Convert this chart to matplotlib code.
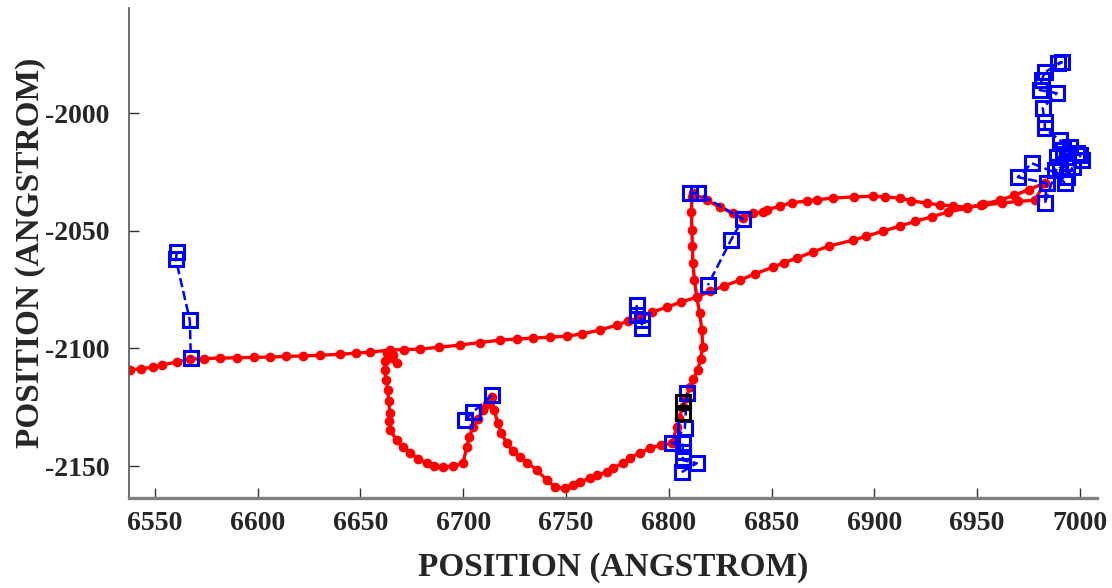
"""
Tip trajectory with tracked positions (x/y in angstrom)
"""
import matplotlib
matplotlib.use('Agg')
import matplotlib.pyplot as plt

# red trajectory: long drift to the right, back along the upper arc,
# down the steep branch and round the lower loop
path_x = [6537.8, 6543.0, 6549.0, 6553.5, 6560.7, 6567.0, 6574.0, 6581.6,
          6590.0, 6598.0, 6605.9, 6614.0, 6622.0, 6630.3, 6640.0, 6648.0,
          6654.6, 6664.3, 6671.0, 6678.9, 6688.0, 6698.3, 6708.0, 6717.8,
          6726.0, 6733.9, 6742.0, 6750.4, 6758.0, 6766.4, 6774.7, 6780.0,
          6785.9, 6792.0, 6799.0, 6806.0, 6813.6, 6820.0, 6827.0, 6834.5,
          6842.0, 6850.6, 6856.0, 6862.3, 6870.0, 6878.0, 6889.5, 6896.0,
          6904.0, 6912.4, 6920.0, 6928.0, 6936.0, 6945.0, 6953.0, 6961.0,
          6968.0, 6975.0, 6982.9,
          6978.0, 6970.0, 6962.0, 6952.0, 6945.0, 6938.1, 6932.0, 6925.5,
          6918.0, 6912.4, 6905.0, 6899.2, 6890.0, 6879.8, 6872.0, 6867.1,
          6860.0, 6854.0, 6848.0, 6845.7, 6840.9, 6836.0, 6831.1, 6824.8,
          6818.5, 6811.7,
          6811.2, 6811.0, 6811.2, 6811.5, 6811.7, 6812.5, 6813.6, 6815.0,
          6816.1, 6816.5, 6815.5, 6814.1, 6812.0, 6810.2, 6808.5, 6806.8,
          6805.0, 6803.9, 6801.5,
          6796.0, 6790.8, 6785.9, 6781.0, 6777.6, 6773.0, 6769.8, 6765.0,
          6761.6, 6757.0, 6753.3, 6749.4, 6744.6, 6740.7, 6735.8, 6731.0,
          6727.5, 6724.0, 6721.2, 6718.5, 6716.8, 6715.0, 6713.9,
          6711.5, 6709.5, 6707.0, 6704.7, 6703.0, 6701.8, 6699.8, 6695.0,
          6690.1, 6686.0, 6682.3, 6678.0, 6674.0, 6670.5, 6667.7, 6664.3,
          6664.0, 6664.3, 6663.8, 6663.3, 6662.5, 6661.9, 6662.0, 6662.8,
          6665.8, 6667.7, 6665.3]
path_y = [-2109.2, -2108.6, -2108.0, -2107.0, -2105.8, -2104.6, -2104.3, -2104.1,
          -2104.0, -2103.8, -2103.7, -2103.4, -2103.2, -2102.9, -2102.5, -2102.0,
          -2101.6, -2100.7, -2100.5, -2100.3, -2099.5, -2098.6, -2097.5, -2096.5,
          -2096.0, -2095.6, -2095.2, -2094.8, -2093.8, -2092.2, -2090.1, -2088.5,
          -2086.7, -2084.5, -2082.5, -2080.3, -2078.2, -2075.8, -2073.4, -2071.0,
          -2068.3, -2065.5, -2063.5, -2061.6, -2059.0, -2056.5, -2054.0, -2052.3,
          -2050.2, -2048.0, -2046.0, -2044.0, -2042.0, -2040.4, -2038.7, -2037.0,
          -2035.0, -2032.5, -2029.8,
          -2037.0, -2037.5, -2038.2, -2039.2, -2040.0, -2039.5, -2039.0, -2038.3,
          -2037.2, -2036.1, -2035.6, -2035.3, -2035.6, -2036.1, -2036.8, -2037.4,
          -2038.0, -2039.5, -2041.0, -2042.1, -2042.5, -2044.6, -2042.5, -2040.0,
          -2037.0, -2034.0,
          -2035.7, -2042.0, -2049.7, -2056.5, -2063.8, -2071.0, -2078.2, -2085.0,
          -2092.2, -2099.5, -2104.5, -2109.2, -2113.0, -2116.5, -2121.0, -2125.0,
          -2129.5, -2133.5, -2140.3,
          -2141.2, -2142.4, -2144.5, -2146.5, -2148.8, -2150.8, -2152.6, -2154.0,
          -2155.1, -2156.8, -2158.1, -2159.4, -2159.0, -2156.0, -2151.7, -2148.5,
          -2146.2, -2143.5, -2140.3, -2136.0, -2131.8, -2126.0, -2120.7,
          -2123.5, -2126.2, -2130.0, -2133.5, -2137.5, -2141.9, -2148.8, -2150.0,
          -2150.5, -2150.0, -2148.8, -2146.8, -2144.5, -2142.0, -2139.0, -2134.7,
          -2131.0, -2127.5, -2122.5, -2117.7, -2113.5, -2109.2, -2105.5, -2102.0,
          -2102.9, -2106.3, -2104.1]

# tracked positions, drawn as dashed square series
left_x = [6560.7, 6560.2, 6567.0, 6567.5]
left_y = [-2059.1, -2062.1, -2088.0, -2104.1]

peak_x = [6713.9, 6704.7, 6700.8]
peak_y = [-2119.9, -2127.1, -2130.5]

mid_x = [6784.4, 6784.4, 6786.9, 6786.9]
mid_y = [-2081.6, -2085.9, -2088.0, -2091.4]

upper_x = [6810.2, 6814.1, 6836.0, 6830.2, 6819.0]
upper_y = [-2034.0, -2034.0, -2045.0, -2054.0, -2073.1]

lower_x = [6808.8, 6807.8, 6801.5, 6806.8, 6806.8, 6806.8, 6813.6, 6806.3]
lower_y = [-2119.0, -2133.9, -2140.3, -2140.3, -2144.1, -2147.5, -2148.8, -2152.6]

black_x = [6806.8, 6806.8]
black_y = [-2122.8, -2127.5]

corner_x = [6989.2, 6991.2, 6982.9, 6981.4, 6980.5, 6988.7, 6981.9, 6982.9,
            6982.9, 6990.2, 6995.1, 6998.5, 6993.6, 6988.7, 6990.2, 6996.5,
            6993.6, 6976.6, 6969.8, 6983.9, 6982.9, 6991.7, 7000.0, 7000.9,
            6987.8, 6992.6]
corner_y = [-1978.8, -1978.3, -1982.6, -1986.0, -1990.2, -1991.5, -1997.9, -2003.8,
            -2006.4, -2011.5, -2014.5, -2017.0, -2018.7, -2018.7, -2023.0, -2023.0,
            -2027.2, -2021.3, -2027.2, -2029.8, -2038.3, -2015.7, -2017.9, -2020.0,
            -2024.2, -2029.8]

xticks = [6550, 6600, 6650, 6700, 6750, 6800, 6850, 6900, 6950, 7000]
yticks = [-2150, -2100, -2050, -2000]

plt.rcParams['font.family'] = ['Liberation Serif', 'DejaVu Serif']
plt.rcParams['font.weight'] = 'bold'
plt.rcParams['axes.unicode_minus'] = False

fig = plt.figure(figsize=(11.12, 5.88), dpi=100)
ax = fig.add_axes([0.116, 0.153, 0.8705, 0.833])

ax.plot(path_x, path_y, '-o', color='#ff0000', lw=2.4, ms=6,
        mec='#ff0000', zorder=2)

sq = dict(marker='s', ls='--', ms=10, mfc='none', mew=2.2, lw=1.8, zorder=3)
for xs, ys in [(left_x, left_y), (peak_x, peak_y), (mid_x, mid_y),
               (upper_x, upper_y), (lower_x, lower_y), (corner_x, corner_y)]:
    ax.plot(xs, ys, color='#0000ff', mec='#0000ff', **sq)
ax.plot(black_x, black_y, color='black', mec='black', **sq)

ax.set_xlim(6537.4, 7008.3)
ax.set_ylim(-2163.6, -1955.4)
ax.set_xticks(xticks)
ax.set_yticks(yticks)

for side in ['top', 'right']:
    ax.spines[side].set_visible(False)
ax.spines['left'].set_color('#555555')
ax.spines['left'].set_linewidth(1.2)
ax.spines['bottom'].set_color('#808080')
ax.spines['bottom'].set_linewidth(2.4)

ax.tick_params(direction='in', length=7, width=1.0, color='#333333',
               labelsize=20, labelcolor='#262626')
ax.tick_params(axis='x', pad=9)
ax.tick_params(axis='y', pad=14)
for lab in ax.get_xticklabels() + ax.get_yticklabels():
    lab.set_fontweight('bold')

ax.set_xlabel('POSITION (ANGSTROM)', fontsize=24, fontweight='bold',
              color='#262626', labelpad=12)
ax.set_ylabel('POSITION (ANGSTROM)', fontsize=24, fontweight='bold',
              color='#262626', labelpad=-1)

fig.savefig('out.png', dpi=100)
